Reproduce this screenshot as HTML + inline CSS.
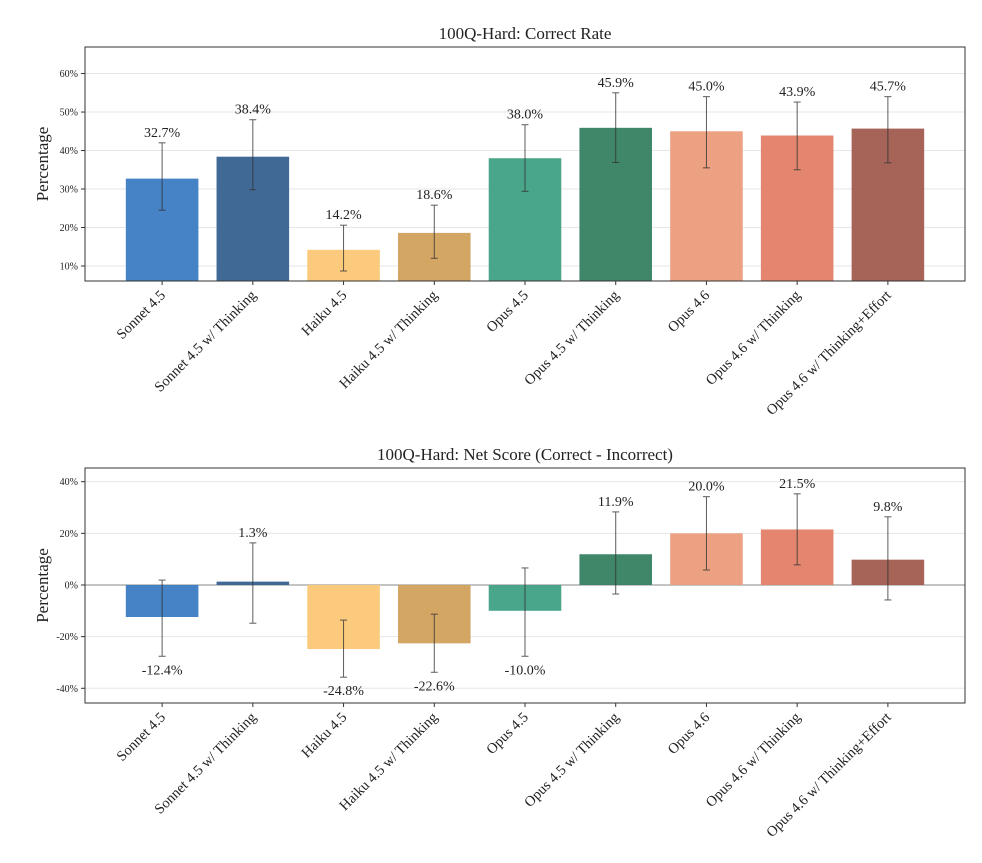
<!DOCTYPE html>
<html><head><meta charset="utf-8"><style>
body{margin:0;background:#fff;}
svg text{font-family:"Liberation Serif",serif;fill:#222;}
</style></head><body>
<svg id="chart" width="982" height="858" xmlns="http://www.w3.org/2000/svg"></svg>
<script>
const categories=["Sonnet 4.5","Sonnet 4.5 w/ Thinking","Haiku 4.5","Haiku 4.5 w/ Thinking","Opus 4.5","Opus 4.5 w/ Thinking","Opus 4.6","Opus 4.6 w/ Thinking","Opus 4.6 w/ Thinking+Effort"];
const colors=["#3f7fc4","#3a6592","#fcc879","#d3a35f","#44a386","#3a8264","#eb9e7e","#e3826a","#a35e52"];
const correctValues=[32.7,38.4,14.2,18.6,38.0,45.9,45.0,43.9,45.7];
const correctLow=[24.5,29.8,8.7,12.0,29.4,36.9,35.5,35.0,36.8];
const correctHigh=[42.0,48.0,20.6,25.8,46.7,55.0,54.0,52.6,54.0];
const correctTicks=[10,20,30,40,50,60];
const netValues=[-12.4,1.3,-24.8,-22.6,-10.0,11.9,20.0,21.5,9.8];
const netLow=[-27.6,-14.8,-35.7,-33.8,-27.6,-3.5,5.8,7.8,-5.8];
const netHigh=[1.9,16.3,-13.6,-11.3,6.6,28.3,34.2,35.3,26.4];
const netTicks=[-40,-20,0,20,40];

const svg=document.getElementById('chart');
const NS="http://www.w3.org/2000/svg";
function mk(tag,attrs,parent){const e=document.createElementNS(NS,tag);for(const k in attrs)e.setAttribute(k,attrs[k]);(parent||svg).appendChild(e);return e;}

function panel(cfg){
  const {left,right,top,bottom,ymin,ymax,values,lows,highs,ticks,title,name,zero}=cfg;
  const g=mk('g',{});
  
  
  const y=v=>bottom-(v-ymin)/(ymax-ymin)*(bottom-top);
  // matplotlib-style x domain: -0.9 .. n-0.1 (approx)
  const n=categories.length;
  const xmin=-0.85, xmax=n-1+0.85;
  const x=i=>left+(i-xmin)/(xmax-xmin)*(right-left);
  const step=(right-left)/(xmax-xmin);
  const bw=step*0.8;
  ticks.forEach(t=>{
    const gl=mk('line',{x1:left,x2:right,y1:y(t),y2:y(t),stroke:'#e6e6e6','stroke-width':1},g);
    
    
    mk('line',{x1:left-4,x2:left,y1:y(t),y2:y(t),stroke:'#333'},g);
    const tl=mk('text',{x:left-7,y:y(t)+3.5,'font-size':10,'text-anchor':'end'},g);
    tl.textContent=t+'%';
    
    
  });
  if(zero){const zl=mk('line',{x1:left,x2:right,y1:y(0),y2:y(0),stroke:'#888','stroke-width':1},g);
    }
  values.forEach((v,i)=>{
    const base=zero?0:ymin;
    const r=mk('rect',{x:x(i)-bw/2,width:bw,y:Math.min(y(v),y(base)),height:Math.abs(y(v)-y(base)),fill:colors[i],opacity:0.97},g);
    
    
    const e=mk('g',{stroke:'#333','stroke-width':1,opacity:0.8},g);
    
    
    mk('line',{x1:x(i),x2:x(i),y1:y(highs[i]),y2:y(lows[i])},e);
    mk('line',{x1:x(i)-3.5,x2:x(i)+3.5,y1:y(highs[i]),y2:y(highs[i])},e);
    mk('line',{x1:x(i)-3.5,x2:x(i)+3.5,y1:y(lows[i]),y2:y(lows[i])},e);
    const ly=v>=0?y(highs[i])-6:y(lows[i])+18;
    const vl=mk('text',{x:x(i),y:ly,'font-size':14,'text-anchor':'middle'},g);
    vl.textContent=v.toFixed(1)+'%';
    
    
    mk('line',{x1:x(i),x2:x(i),y1:bottom,y2:bottom+4,stroke:'#333'},g);
    const xl=mk('text',{x:x(i)+4,y:bottom+15,'font-size':14.5,'text-anchor':'end',transform:`rotate(-45 ${x(i)+4} ${bottom+15})`},g);
    xl.textContent=categories[i];
    
    
  });
  const fr=mk('rect',{x:left,y:top,width:right-left,height:bottom-top,fill:'none',stroke:'#333','stroke-width':1},g);
  
  const tt=mk('text',{x:(left+right)/2,y:top-8,'font-size':17,'text-anchor':'middle'},g);
  tt.textContent=title;
  
  const yt=mk('text',{x:0,y:0,'font-size':17,'text-anchor':'middle',transform:`translate(${left-37} ${(top+bottom)/2}) rotate(-90)`},g);
  yt.textContent='Percentage';
  
}
panel({left:85,right:965,top:47,bottom:281,ymin:6.1,ymax:66.9,values:correctValues,lows:correctLow,highs:correctHigh,ticks:correctTicks,title:'100Q-Hard: Correct Rate',name:'correct-rate-chart',zero:false});
panel({left:85,right:965,top:468,bottom:703,ymin:-45.7,ymax:45.3,values:netValues,lows:netLow,highs:netHigh,ticks:netTicks,title:'100Q-Hard: Net Score (Correct - Incorrect)',name:'net-score-chart',zero:true});
</script>
</body></html>
